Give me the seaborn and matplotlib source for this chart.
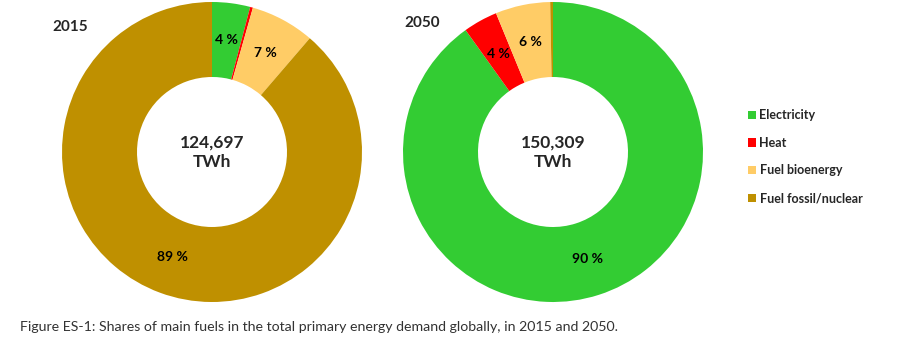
import matplotlib.pyplot as plt
import seaborn as sns

sns.set_theme(style="white")
plt.rcParams["font.family"] = ["Lato", "DejaVu Sans"]

# data
categories = ["Electricity", "Heat", "Fuel bioenergy", "Fuel fossil/nuclear"]
shares_2015 = [4.1, 0.3, 6.9, 88.7]
shares_2050 = [90.1, 3.7, 5.9, 0.3]
totals = ["124,697", "150,309"]
years = ["2015", "2050"]
colors = sns.color_palette(["#33CC33", "#FF0000", "#FFCC66", "#BF9000"])

W, H = 923, 350
fig = plt.figure(figsize=(W / 100, H / 100), dpi=100)


def _pct(p):
    return "%d %%" % round(p) if p > 1 else ""


def draw_donut(left_px, shares, total, year, title_x, title_y):
    axis = fig.add_axes([left_px / W, (H - 302) / H, 300 / W, 300 / H])
    wedges, _, _ = axis.pie(
        shares,
        colors=colors,
        startangle=90,
        counterclock=False,
        autopct=_pct,
        pctdistance=0.75,
        wedgeprops={"width": 0.5, "linewidth": 0},
        textprops={"fontsize": 10, "fontweight": "bold", "color": "black"},
    )
    axis.set_xlim(-1, 1)
    axis.set_ylim(-1, 1)
    axis.set_aspect("equal")
    axis.text(0, 0, total + "\nTWh", ha="center", va="center",
              fontsize=12.5, fontweight="bold", linespacing=1.3)
    fig.text(title_x / W, 1 - title_y / H, year, ha="left", va="center",
             fontsize=11, fontweight="bold")
    return wedges


wedges = draw_donut(62, shares_2015, totals[0], years[0], 52, 27)
draw_donut(403, shares_2050, totals[1], years[1], 404, 23)

legend = fig.legend(
    wedges, categories,
    loc="upper left",
    bbox_to_anchor=(737 / W, 1 - 98 / H),
    frameon=False,
    handlelength=0.65,
    handleheight=0.65,
    handletextpad=0.25,
    labelspacing=1.25,
    prop={"size": 9, "weight": "bold"},
)

fig.text(20 / W, 1 - 327 / H,
         "Figure ES-1: Shares of main fuels in the total primary energy demand globally, in 2015 and 2050.",
         ha="left", va="center", fontsize=10.2, color="#333333")

fig.savefig("out.png", dpi=100)
plt.close(fig)
